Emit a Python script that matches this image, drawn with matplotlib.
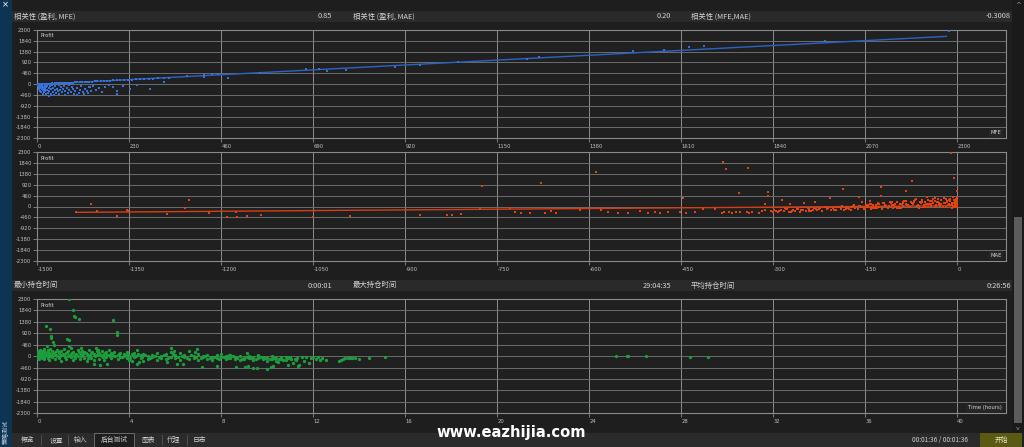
import matplotlib
matplotlib.use('Agg')
import matplotlib.pyplot as plt
from matplotlib.patches import Rectangle

plt.rcParams['font.family'] = ['Noto Sans CJK SC', 'DejaVu Sans']

# ---------------- data ----------------
y_ticks = [2300, 1840, 1380, 920, 460, 0, -460, -920, -1380, -1840, -2300]
y_tick_labels = ['2300', '1840', '1380', '920', '460', '0', '-460', '-920', '-1380', '-1840', '-2300']

mfe_ticks = [0, 230, 460, 690, 920, 1150, 1380, 1610, 1840, 2070, 2300]
mae_ticks = [-1500, -1350, -1200, -1050, -900, -750, -600, -450, -300, -150, 0]
time_ticks = [0, 4, 8, 12, 16, 20, 24, 28, 32, 36, 40]

header1 = [('相关性 (盈利, MFE)', '0.85'), ('相关性 (盈利, MAE)', '0.20'), ('相关性 (MFE,MAE)', '-0.3008')]
header3 = [('最小持仓时间', '0:00:01'), ('最大持仓时间', '29:04:35'), ('平均持仓时间', '0:26:56')]
tabs = ['概览', '设置', '输入', '后台测试', '图表', '代理', '日志']
elapsed = '00:01:36 / 00:01:36'

# Panel 1: MFE vs profit
mfe_x = [3, 6, 9, 12, 15, 18, 21, 24, 27, 30, 33, 36, 40, 44, 48, 52, 56, 60, 65, 70, 75, 80, 85, 90, 95,
         100, 106, 112, 118, 124, 130, 137, 144, 150, 158, 166, 174, 182, 190, 198, 207, 216, 226, 236, 246,
         256, 266, 278, 290, 302, 316, 330, 373, 417, 417, 436, 452, 557,
         2, 4, 5, 6, 7, 8, 9, 10, 11, 12, 13, 14, 15, 16, 17, 18, 19, 20, 21, 22, 24, 25, 26, 28, 29, 30,
         32, 33, 35, 36, 38, 40, 41, 43, 45, 47, 49, 51, 53, 55, 57, 59, 62, 64, 66, 68, 70, 73, 76, 78,
         80, 83, 86, 89, 92, 95, 98, 100, 103, 106, 110, 113, 116, 119, 123, 126, 129, 132, 135, 140, 147,
         155, 162, 170, 180, 190, 198, 200, 215, 232, 250, 282, 317, 476,
         672, 704, 724, 771, 893, 956, 1052, 1223, 1254, 1488, 1566, 1630, 1666, 1969, 2278]
mfe_y = [10, -5, 15, 0, 8, 20, 5, 18, 12, 25, 20, 30, 22, 35, 30, 40, 38, 45, 48, 55, 52, 62, 66, 70, 75,
         80, 85, 92, 95, 100, 108, 112, 118, 125, 130, 138, 145, 152, 160, 165, 172, 180, 188, 196, 205,
         212, 220, 228, 238, 250, 258, 270, 341, 383, 284, 412, 412, 454,
         -60, -120, -200, -30, -280, -150, -90, -330, -220, -60, -400, -180, -260, -100, -350, -40, -300,
         -200, -430, -120, -250, -60, -380, -511, -170, -290, -90, -400, -220, -30, -330, -150, -450, -260,
         -80, -360, -190, -300, -40, -420, -230, -120, -340, -200, -60, -440, -280, -150, -380, -30, -240,
         -330, -100, -200, -410, -300, -469, -160, -360, -240, -80, -320, -420, -200, -284, -380, -120,
         -142, -300, -60, -256, -160, -341, -100, -40, -120, -270, -426, -60, -227, -20, -185, 71, 256,
         626, 651, 566, 596, 724, 809, 950, 1052, 1163, 1418, 1461, 1563, 1631, 1844, 2245]
mfe_fit_coef = [0.899, -13]      # slope, intercept of the trend line
mfe_fit_range = [0, 2273]

# Panel 2: MAE vs profit
mae_x = [-1437, -1412, -1403, -1370, -1353, -1352, -1288, -1259, -1253, -1220, -1191, -1176, -1175, -1158, -1135,
         -1050, -990, -876, -832, -824, -809, -775, -778, -729, -721, -711, -697, -679, -672, -663, -654,
         -615, -589, -581, -569, -553, -537, -517, -504, -493, -485, -472, -452, -447, -443, -428,
         -414, -395, -381.5, -376.6, -340.8, -356.5,
         -384, -380, -372, -368, -361, -354, -342, -339, -335, -324, -318, -314, -313, -309, -308, -304,
         -300, -296, -292, -288, -286, -282, -278, -274, -272, -268, -264, -260, -256, -252, -250, -246,
         -242, -238, -234, -232, -228, -224, -220, -216, -212, -208, -206, -202, -198, -194, -190, -187,
         -185, -182, -178, -174, -170, -166, -162, -160, -158, -155, -152, -148, -145, -142, -140, -137,
         -134, -130, -127, -125, -124, -122, -119, -116, -113, -110, -107, -104, -101, -98, -95, -92,
         -89, -86, -84, -82, -79, -76, -73, -72, -69, -66, -63, -60, -57, -54, -50, -48, -45, -42, -39,
         -36, -33, -32, -30, -27, -24, -21, -18, -15, -12, -10, -9, -7.6, -6, -5, -4, -3, -2, -1, -0.5,
         0, 0, -1,
         -196, -188, -176, -168, -156, -146, -136, -128, -118, -108, -100, -90, -80, -70, -62, -52, -44,
         -36, -28, -20, -14, -8, -4, -2, -6, -11, -17, -23, -29, -35, -41, -47, -53, -59, -65, -71, -77,
         -83, -89, -95, -103, -111, -121, -131, -141, -151, -161, -171, -181, -191, -201, -211, -221,
         -231, -241, -251, -261, -271, -281, -291,
         -149, -143, -139, -133, -129, -123, -117, -112, -106, -99,
         -94, -88, -83, -78, -74, -68, -64, -58, -55, -51,
         -47, -43, -40, -37, -34, -31, -26, -22, -19, -16,
         -13, -11, -8, -7, -5, -3, -2, -1, -0.5, -2.5,
         -298, -290, -280, -270, -262, -254, -244, -236, -226, -214]
mae_y = [-248, 92, -205, -403, -163, -205, -318, -50, 276, -262, -432, -233, -432, -403, -375,
         -440, -403, -360, -380, -360, -318, 870, -64, -64, -233, -276, -276, 996, -276, -191, -276,
         -148, 1463, -148, -233, -276, -276, -191, -276, -233, -276, -233, -233, 360, -276, -233,
         -120, -120, 1875, 1578, 1648, 586,
         -262, -220, -248, -262, -233, -248, -220, -262, -220, -262, -177, -163, 92, 614, 432, -177,
         -220, -177, -248, -150, 262, -200, -120, -235, 120, -150, -200, -100, -220, -130, 163, -180,
         -90, -200, -60, 191, -150, -80, -180, -40, -120, 347, -160, -60, -130, -20, -110, 743,
         -150, 0, -80, -140, 40, -60, -120, 389, 20, 191, -100, 60, -30, 233, -120, 80,
         -60, 120, 0, 432, 826, -90, 150, 30, -60, 180, 60, -80, 120, 200, 0, -60,
         160, 240, 658, 80, -40, 200, 1082, 100, 260, 20, -60, 180, 280, 60, 389, -40, 220, 120, 300,
         0, 180, 318, 80, 260, -40, 160, 300, 60, 220, 2271, -60, 417, 140, 1196, 280, 20, 200, 389, 672,
         100, -40, 260,
         -40, 40, -100, 60, -20, 80, -60, 100, 20, 140, -40, 120, 60, 180, 20, 200, 100, 240, 40, 160,
         280, 60, 220, 120, 0, 80, 200, -20, 140, 40, 240, 100, -40, 160, 40, 220, 0, 120, 200, -80,
         60, 20, 140, -60, 100, -120, 40, -40, -100, 0, -140, -60, -180, -120, -200, -160, -100, -220,
         -60, -180,
         -20, 100, -80, 60, 160, -40, 80, 20, 200, -60,
         100, 40, 220, -20, 140, 300, 60, 180, -40, 120,
         260, 20, 160, 340, 80, 200, 120, 360, 0, 240,
         100, 300, 160, 40, 260, 120, 320, 60, 180, -20,
         -160, -200, -120, -180, -100, -160, -60, -140, -100, -40]
mae_fit_coef = [0.195, 32]
mae_fit_range = [-1437, 0]

# Panel 3: holding time (hours) vs profit
time_x = [1.39, 1.56, 1.59, 1.64, 1.80, 0.39, 0.57, 0.58, 0.59, 0.67, 0.72, 1.30, 1.38, 1.39, 3.30, 3.46, 3.48,
          0.41, 1.88, 2.64,
          2.48, 2.74, 3.04, 4.35, 4.43, 5.62, 6.06, 6.32, 7.16, 7.82, 8.65, 9.03, 9.14, 9.39, 9.56, 10.0,
          10.14, 10.26, 10.91, 11.32, 10.48, 9.11, 8.33, 6.93, 6.85, 5.81, 5.93, 4.32, 2.55,
          11.0, 11.1, 11.2, 11.3, 11.4, 11.5, 11.6, 11.7, 11.8, 11.9, 12.0, 12.1, 12.2, 12.3, 12.4, 12.54,
          13.1, 13.2, 13.3, 13.4, 13.5, 13.6, 13.7, 13.8, 13.97, 14.42, 15.12, 25.15, 25.63, 25.7, 26.47,
          28.36, 29.15,
          0.02, 0.02, 0.02, 0.05, 0.05, 0.08, 0.08, 0.08, 0.12, 0.12, 0.15, 0.15, 0.2, 0.2, 0.2, 0.25, 0.25,
          0.3, 0.3, 0.3, 0.35, 0.35, 0.45, 0.45, 0.45, 0.5, 0.5, 0.55, 0.55, 0.65, 0.65, 0.65, 0.75, 0.75,
          0.75, 0.85, 0.85, 0.95, 0.95, 1.05, 1.05, 1.05, 1.15, 1.15, 1.25, 1.25, 1.35, 1.35, 1.45, 1.45,
          1.45, 1.55, 1.55, 1.65, 1.65, 1.75, 1.75, 1.85, 1.85, 1.95, 1.95, 2.05, 2.05, 2.15, 2.15, 2.25,
          2.25, 2.35, 2.35, 2.45, 2.45, 2.6, 2.6, 2.7, 2.7, 2.8, 2.8, 2.9, 2.9, 3.0, 3.0, 3.1, 3.1, 3.2,
          3.2, 3.35, 3.35, 3.5, 3.5, 3.6, 3.6, 3.75, 3.75, 3.9, 3.9, 4.0, 4.0, 4.1, 4.1, 4.2, 4.2, 4.5,
          4.5, 4.6, 4.6, 4.8, 4.8, 5.0, 5.0, 5.2, 5.2, 5.4, 5.4, 5.6, 5.6, 5.8, 5.8, 6.0, 6.0, 6.2, 6.2,
          6.4, 6.4, 6.6, 6.6, 6.8, 6.8, 7.0, 7.0, 7.2, 7.2, 7.4, 7.4, 7.6, 7.6, 7.8, 7.8, 8.0, 8.0, 8.2,
          8.2, 8.4, 8.4, 8.6, 8.6, 8.8, 8.8, 9.0, 9.0, 9.2, 9.2, 9.4, 9.4, 9.6, 9.6, 9.8, 9.8, 10.0, 10.0,
          10.2, 10.2, 10.4, 10.4, 10.6, 10.6, 10.8, 10.8,
          0.01, 0.11, 0.17, 0.23, 0.28, 0.33, 0.40, 0.48, 0.53, 0.60,
          0.70, 0.80, 0.90, 1.00, 1.10, 1.20, 1.30, 1.40, 1.50, 1.60,
          1.70, 1.80, 1.90, 2.00, 2.10, 2.20, 2.30, 2.40, 2.50, 2.65,
          2.75, 2.85, 2.95, 3.05, 3.15, 3.25, 3.40, 3.55, 3.70, 3.85,
          3.95, 4.05, 4.15, 4.30, 4.40, 4.55, 4.70, 4.90, 5.10, 5.30,
          5.50, 5.70, 5.90, 6.10, 6.30, 6.50, 6.70, 6.90, 7.10, 7.30,
          7.50, 7.70, 7.90, 8.10, 8.30, 8.50, 8.70, 8.90, 9.10, 9.30,
          9.50, 9.70, 9.90, 10.10, 10.30, 10.50, 10.70, 10.90, 11.05, 11.25]
time_y = [2286, 1871, 1629, 1576, 1482, 1200, 1080, 811, 744, 583, 436, 677, 637, 396, 1442, 972, 852,
          409, 315, 261,
          -302, -342, -329, -329, -248, -248, -329, -329, -422, -396, -422, -422, -396, -463, -490, -530,
          -436, -382, -355, -382, -221, 141, 47, 288, 181, 315, 208, 261, 342,
          -20, -287, -100, -60, -340, -30, -200, -40, -260, -80, -30, -120, -40, -150, -60, -166,
          -180, -140, -110, -90, -80, -70, -60, -70, -110, -72, -45, 0, 0, 0, 0,
          -54, -54,
          40, -60, 180, 120, -20, 200, 0, -100, 60, 250, -40, 150, 100, -80, 220, 20, 160,
          -120, 80, 280, 180, 0, 60, -60, 240, 140, -150, 300, 20, 100, -40, 200, 160, -120,
          40, 250, 0, -60, 120, 200, -180, 60, 30, 280, -100, 140, 220, 0, -40, 100,
          320, 180, -150, 60, -60, 240, 0, -120, 120, 200, 40, -80, 160, 80, -200, 260,
          0, -60, 140, 100, -140, 40, 200, -100, 120, 0, 220, -160, 80, 160, -40, 40, 240, -80,
          120, 0, 180, -120, 60, 140, -40, 20, 100, -60, 180, 0, -140, 80, -200, -40, 140, -60,
          40, -200, 100, 0, -100, 60, -40, -140, 120, 0, -60, 80, -120, -20, 160, -80, 40, 120, -160,
          -40, 60, -100, 200, 0, -60, 80, -140, -40, 20, -100, 40, -20, -160, 40, -80, -40, 100, -120,
          0, -60, 40, -100, -20, -160, 20, -60, -120, 0, -80, -140, -40, -60, 60, -100, -20, -180, -60,
          0, -120, -80, -200, -40, -100, -160, -20,
          100, 20, 140, 60, -20, 120, 40, 180, 80, 0,
          140, 60, 200, 20, 100, -40, 160, 60, 120, 20,
          100, 180, 0, 80, 140, -60, 60, 160, 20, 100,
          40, -40, 120, 60, 0, 80, 20, 100, -20, 60,
          40, -60, 60, 0, 100, -20, 40, -80, 20, -40,
          40, -60, 80, -20, 0, -80, 60, -20, -60, 20,
          -60, -20, -100, -40, -80, 0, -60, -100, -20, -60,
          -100, -40, -80, -120, -60, -100, -140, -80, -120, -160]

# ---------------- figure ----------------
W, H = 1024, 447
fig = plt.figure(figsize=(W / 100, H / 100), dpi=100)
fig.patch.set_facecolor('#1e1e1e')

ui = fig.add_axes([0, 0, 1, 1], zorder=0)
ui.set_xlim(0, W)
ui.set_ylim(H, 0)
ui.axis('off')

TXT = '#d4d4d4'

def rect(x, y, w, h, fc, ec='none', lw=0):
    ui.add_patch(Rectangle((x, y), w, h, facecolor=fc, edgecolor=ec, linewidth=lw))

# left strip
rect(0, 0, 12, H, '#0d3452')
ui.text(5.5, 5, '×', color='white', fontsize=6, ha='center', va='center', family=['DejaVu Sans'])
ui.text(5.5, 432, '策略测试', color='#c9d6e2', fontsize=4.3, rotation=90, ha='center', va='center')

# right scrollbar
rect(1012, 0, 12, 433, '#1a1a1a')
rect(1014, 217, 8, 206, '#5c5c5c')
ui.text(1018, 5, '^', color='#9a9a9a', fontsize=5, ha='center', va='center', family=['DejaVu Sans'])
ui.text(1018, 428, 'v', color='#9a9a9a', fontsize=4.5, ha='center', va='center', family=['DejaVu Sans'])

# header bars
def header(y, items):
    rect(12, y, 1000, 11, '#2a2a2a')
    lefts = [14, 353, 691]
    rights = [332, 671, 1011]
    for (lab, val), lx, rx in zip(items, lefts, rights):
        ui.text(lx, y + 5.5, lab, color=TXT, fontsize=5.3, ha='left', va='center')
        ui.text(rx, y + 5.5, val, color=TXT, fontsize=5.3, ha='right', va='center')

header(11, header1)
header(280, header3)

# bottom tab bar
rect(12, 433, 1000, 14, '#2b2b2b')
rect(94, 433, 40, 14, '#1e1e1e', ec='#6a6a6a', lw=0.7)
tab_centers = [28, 56, 80, 114, 148, 174, 200]
for t, cx in zip(tabs, tab_centers):
    ui.text(cx, 440, t, color='#cfcfcf', fontsize=4.9, ha='center', va='center')
for sx in [41, 68, 162, 187]:
    ui.plot([sx, sx], [435, 445], color='#555555', lw=0.6)
ui.text(940.5, 440, elapsed, color='#cfcfcf', fontsize=4.7, ha='center', va='center')
rect(980, 433, 42, 14, '#5b5a12')
ui.text(1001, 440, '开始', color='#e8e8c8', fontsize=4.9, ha='center', va='center')

# watermark (fit to ~149 px wide)
wm = ui.text(511, 432, 'www.eazhijia.com', color='white', fontsize=13, fontweight='bold',
             ha='center', va='center', family=['Liberation Sans Narrow', 'DejaVu Sans'])
fig.canvas.draw()
wbb = wm.get_window_extent()
if wbb.width > 0:
    wm.set_fontsize(13 * 149.0 / wbb.width)

# ---------------- panels ----------------
def px_axes(x0, y0, x1, y1):
    return fig.add_axes([x0 / W, 1 - y1 / H, (x1 - x0) / W, (y1 - y0) / H], zorder=2)

def style(ax, xlim, xticks, corner):
    ax.set_facecolor('#202020')
    ax.set_xlim(*xlim)
    ax.set_ylim(-2300, 2300)
    ax.set_yticks(y_ticks)
    ax.set_yticklabels(y_tick_labels, family=['DejaVu Sans'])
    ax.set_xticks(xticks)
    ax.set_xticklabels([str(t) for t in xticks], ha='left', family=['DejaVu Sans'])
    ax.tick_params(colors='#8a8a8a', labelcolor='#c0c0c0', labelsize=3.8, length=3, width=0.6, pad=1.2)
    for s in ax.spines.values():
        s.set_color('#8a8a8a')
        s.set_linewidth(0.8)
    ax.grid(axis='x', color='#8e8e8e', lw=0.7)
    ax.grid(axis='y', color='#6c6c6c', lw=0.7)
    ax.set_axisbelow(True)
    ax.text(0.0035, 0.945, 'Profit', transform=ax.transAxes, color=TXT, fontsize=3.8,
            ha='left', va='center', family=['DejaVu Sans'])
    ax.text(0.9956, 0.05, corner, transform=ax.transAxes, color=TXT, fontsize=3.8,
            ha='right', va='center', family=['DejaVu Sans'],
            bbox=dict(boxstyle='square,pad=0.3', fc='#262626', ec='none'))

LEFT, RIGHT = 37.3, 1006
MS = 2.1

# Panel 1
ax1 = px_axes(LEFT, 30, RIGHT, 138.3)
style(ax1, (0, 2421.7), mfe_ticks, 'MFE')
ax1.plot(mfe_fit_range, [mfe_fit_coef[0] * v + mfe_fit_coef[1] for v in mfe_fit_range],
         color='#2c62c6', lw=1.0, zorder=3)
ax1.plot(mfe_x, mfe_y, ls='none', marker='s', ms=MS, mew=0, color='#3572dc', zorder=4)

# Panel 2
ax2 = px_axes(LEFT, 152.3, RIGHT, 260.7)
style(ax2, (-1500, 79.5), mae_ticks, 'MAE')
ax2.plot(mae_fit_range, [mae_fit_coef[0] * v + mae_fit_coef[1] for v in mae_fit_range],
         color='#d83c14', lw=1.0, zorder=3)
ax2.plot(mae_x, mae_y, ls='none', marker='s', ms=MS, mew=0, color='#e4420f', zorder=4)

# Panel 3
ax3 = px_axes(LEFT, 299, RIGHT, 413.3)
style(ax3, (0, 42.12), time_ticks, 'Time (hours)')
ax3.plot(time_x, time_y, ls='none', marker='o', ms=2.4, mew=0, color='#1c9e3d', zorder=4)

fig.savefig('out.png', dpi=100, facecolor=fig.get_facecolor())
